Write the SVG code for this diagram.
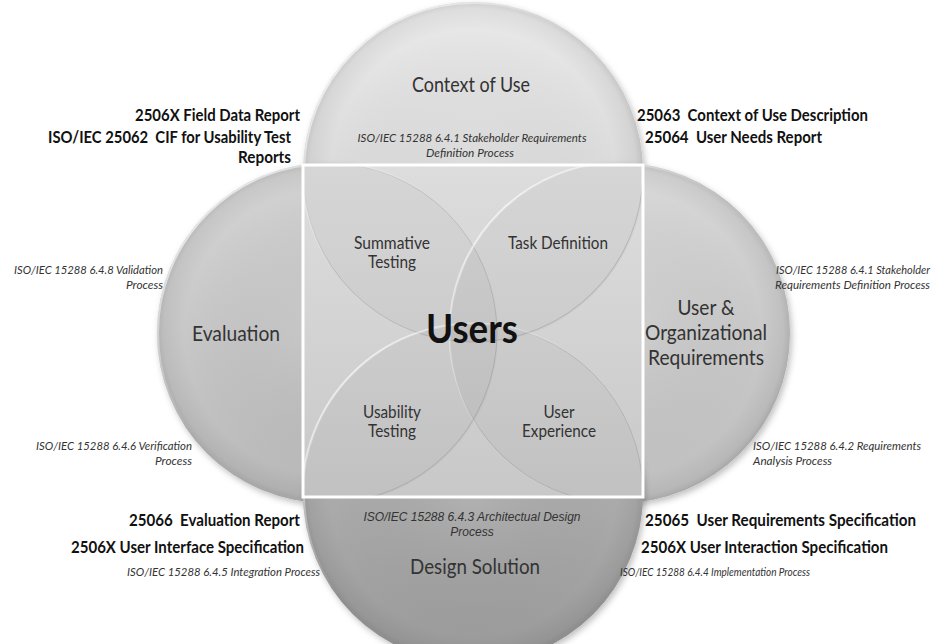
<svg xmlns="http://www.w3.org/2000/svg" width="945" height="644" viewBox="0 0 945 644">
<defs>
<style>
.lbl{font-family:Lato,'Liberation Sans',sans-serif;fill:#333;font-size:20.5px}
.in{font-family:Lato,'Liberation Sans',sans-serif;fill:#333;font-size:16.5px}
.b{font-family:Lato,'Liberation Sans',sans-serif;font-weight:bold;fill:#111;font-size:16.4px}
.it{font-family:Lato,'Liberation Sans',sans-serif;font-style:italic;fill:#333;font-size:12px}
.ar{font-family:'Liberation Sans',Arial,sans-serif;font-style:italic;fill:#333;font-size:12px}
.users{font-family:Lato,'Liberation Sans',sans-serif;font-weight:bold;fill:#111;font-size:40px}
.rim{fill:url(#rim)}
.hl{fill:none;stroke:url(#hl);stroke-width:2}
.ov{fill:#000;fill-opacity:.03;stroke:#5a5a5a;stroke-opacity:.28;stroke-width:.8}
.ovh{fill:none;stroke:url(#hl);stroke-width:2.2}
</style>
<linearGradient id="gTop" x1="0" y1="0" x2="0" y2="1"><stop offset="0" stop-color="#e9e9e9"/><stop offset="1" stop-color="#cdcdcd"/></linearGradient>
<linearGradient id="gLeft" x1="0" y1="0" x2="0.3" y2="1"><stop offset="0" stop-color="#d6d6d6"/><stop offset="1" stop-color="#b8b8b8"/></linearGradient>
<linearGradient id="gRight" x1="0" y1="0" x2="0.3" y2="1"><stop offset="0" stop-color="#dddddd"/><stop offset="1" stop-color="#c1c1c1"/></linearGradient>
<linearGradient id="gBottom" x1="0" y1="0" x2="0" y2="1"><stop offset="0" stop-color="#bebebe"/><stop offset="1" stop-color="#999999"/></linearGradient>
<linearGradient id="gSq" x1="0" y1="0" x2="0" y2="1"><stop offset="0" stop-color="#e5e5e5"/><stop offset="1" stop-color="#cfcfcf"/></linearGradient>
<radialGradient id="rim" cx="0.5" cy="0.5" r="0.5"><stop offset="0" stop-color="#fff" stop-opacity="0.08"/><stop offset="0.84" stop-color="#000" stop-opacity="0"/><stop offset="0.96" stop-color="#000" stop-opacity="0.05"/><stop offset="1" stop-color="#000" stop-opacity="0.12"/></radialGradient>
<linearGradient id="hl" x1="0" y1="0" x2="1" y2="1"><stop offset="0" stop-color="#fff" stop-opacity="0.95"/><stop offset="0.45" stop-color="#fff" stop-opacity="0"/><stop offset="1" stop-color="#777" stop-opacity="0.22"/></linearGradient>
<filter id="sh" x="-10%" y="-10%" width="125%" height="125%"><feDropShadow dx="2" dy="3" stdDeviation="3" flood-color="#000" flood-opacity="0.25"/></filter>
<clipPath id="sq"><rect x="303" y="165" width="340" height="332"/></clipPath>
</defs>
<rect width="945" height="644" fill="#fff"/>

<g id="node-context-of-use">
<circle cx="473" cy="172" r="170" fill="url(#gTop)" filter="url(#sh)"/>
<circle cx="473" cy="172" r="170" class="rim"/>
<circle cx="473" cy="172" r="169" class="hl"/>
<text class="lbl" x="471" y="92" text-anchor="middle" textLength="118" lengthAdjust="spacingAndGlyphs">Context of Use</text>
<text class="it" x="472" y="142" text-anchor="middle" textLength="229" lengthAdjust="spacingAndGlyphs">ISO/IEC 15288 6.4.1 Stakeholder Requirements</text>
<text class="it" x="470" y="157" text-anchor="middle" textLength="88" lengthAdjust="spacingAndGlyphs">Definition Process</text>
</g>

<g id="node-evaluation">
<circle cx="327" cy="333" r="170" fill="url(#gLeft)" filter="url(#sh)"/>
<circle cx="327" cy="333" r="170" class="rim"/>
<circle cx="327" cy="333" r="169" class="hl"/>
<text class="lbl" x="236" y="341" text-anchor="middle" textLength="88" lengthAdjust="spacingAndGlyphs">Evaluation</text>
</g>

<g id="node-user-org-req">
<circle cx="620" cy="333" r="170" fill="url(#gRight)" filter="url(#sh)"/>
<circle cx="620" cy="333" r="170" class="rim"/>
<circle cx="620" cy="333" r="169" class="hl"/>
<text class="lbl" x="706" y="315" text-anchor="middle" textLength="57" lengthAdjust="spacingAndGlyphs">User &amp;</text>
<text class="lbl" x="706" y="340" text-anchor="middle" textLength="122" lengthAdjust="spacingAndGlyphs">Organizational</text>
<text class="lbl" x="706" y="365" text-anchor="middle" textLength="116" lengthAdjust="spacingAndGlyphs">Requirements</text>
</g>

<g id="node-design-solution">
<circle cx="473" cy="494" r="170" fill="url(#gBottom)" filter="url(#sh)"/>
<circle cx="473" cy="494" r="170" class="rim"/>
<circle cx="473" cy="494" r="169" class="hl"/>
<text class="ar" x="472" y="521" text-anchor="middle">ISO/IEC 15288 6.4.3 Architectual Design</text>
<text class="ar" x="472" y="536" text-anchor="middle">Process</text>
<text class="lbl" x="475" y="574" text-anchor="middle" textLength="130" lengthAdjust="spacingAndGlyphs">Design Solution</text>
</g>

<g id="node-users">
<rect x="303" y="165" width="340" height="332" fill="url(#gSq)"/>
<g clip-path="url(#sq)">
<circle cx="473" cy="172" r="170" class="ov"/>
<circle cx="327" cy="333" r="170" class="ov"/>
<circle cx="620" cy="333" r="170" class="ov"/>
<circle cx="473" cy="494" r="170" class="ov"/>
<circle cx="473" cy="172" r="170.5" class="ovh"/>
<circle cx="327" cy="333" r="170.5" class="ovh"/>
<circle cx="620" cy="333" r="170.5" class="ovh"/>
<circle cx="473" cy="494" r="170.5" class="ovh"/>
</g>
<rect x="303" y="165" width="340" height="332" fill="none" stroke="#fff" stroke-width="3"/>
<text class="users" x="472" y="343" text-anchor="middle" textLength="92" lengthAdjust="spacingAndGlyphs">Users</text>
</g>

<g id="node-summative-testing">
<text class="in" x="392" y="249" text-anchor="middle" textLength="76" lengthAdjust="spacingAndGlyphs">Summative</text>
<text class="in" x="392" y="268" text-anchor="middle" textLength="48" lengthAdjust="spacingAndGlyphs">Testing</text>
</g>
<g id="node-task-definition">
<text class="in" x="558" y="249" text-anchor="middle" textLength="100" lengthAdjust="spacingAndGlyphs">Task Definition</text>
</g>
<g id="node-usability-testing">
<text class="in" x="392" y="418" text-anchor="middle" textLength="58" lengthAdjust="spacingAndGlyphs">Usability</text>
<text class="in" x="392" y="437" text-anchor="middle" textLength="48" lengthAdjust="spacingAndGlyphs">Testing</text>
</g>
<g id="node-user-experience">
<text class="in" x="559" y="418" text-anchor="middle" textLength="31" lengthAdjust="spacingAndGlyphs">User</text>
<text class="in" x="559" y="437" text-anchor="middle" textLength="74" lengthAdjust="spacingAndGlyphs">Experience</text>
</g>

<g id="annotations-top-left">
<text class="b" x="300" y="121" text-anchor="end" textLength="165" lengthAdjust="spacingAndGlyphs">2506X Field Data Report</text>
<text class="b" x="291" y="143" text-anchor="end" xml:space="preserve" textLength="243" lengthAdjust="spacingAndGlyphs">ISO/IEC 25062  CIF for Usability Test</text>
<text class="b" x="291" y="163" text-anchor="end" textLength="53" lengthAdjust="spacingAndGlyphs">Reports</text>
</g>
<g id="annotations-top-right">
<text class="b" x="637" y="121" xml:space="preserve" textLength="231" lengthAdjust="spacingAndGlyphs">25063  Context of Use Description</text>
<text class="b" x="645" y="143" xml:space="preserve" textLength="177" lengthAdjust="spacingAndGlyphs">25064  User Needs Report</text>
</g>
<g id="annotations-left">
<text class="it" x="163" y="274" text-anchor="end" textLength="149" lengthAdjust="spacingAndGlyphs">ISO/IEC 15288 6.4.8 Validation</text>
<text class="it" x="163" y="289" text-anchor="end" textLength="37" lengthAdjust="spacingAndGlyphs">Process</text>
<text class="it" x="192" y="450" text-anchor="end" textLength="156" lengthAdjust="spacingAndGlyphs">ISO/IEC 15288 6.4.6 Verification</text>
<text class="it" x="192" y="465" text-anchor="end" textLength="37" lengthAdjust="spacingAndGlyphs">Process</text>
</g>
<g id="annotations-right">
<text class="it" x="776" y="274" textLength="154" lengthAdjust="spacingAndGlyphs">ISO/IEC 15288 6.4.1 Stakeholder</text>
<text class="it" x="775" y="289" textLength="155" lengthAdjust="spacingAndGlyphs">Requirements Definition Process</text>
<text class="it" x="753" y="450" textLength="168" lengthAdjust="spacingAndGlyphs">ISO/IEC 15288 6.4.2 Requirements</text>
<text class="it" x="753" y="465" textLength="79" lengthAdjust="spacingAndGlyphs">Analysis Process</text>
</g>
<g id="annotations-bottom-left">
<text class="b" x="300" y="526" text-anchor="end" xml:space="preserve" textLength="171" lengthAdjust="spacingAndGlyphs">25066  Evaluation Report</text>
<text class="b" x="304" y="553" text-anchor="end" textLength="233" lengthAdjust="spacingAndGlyphs">2506X User Interface Specification</text>
<text class="it" x="320" y="576" text-anchor="end" textLength="193" lengthAdjust="spacingAndGlyphs">ISO/IEC 15288 6.4.5 Integration Process</text>
</g>
<g id="annotations-bottom-right">
<text class="b" x="645" y="526" xml:space="preserve" textLength="271" lengthAdjust="spacingAndGlyphs">25065  User Requirements Specification</text>
<text class="b" x="641" y="553" textLength="247" lengthAdjust="spacingAndGlyphs">2506X User Interaction Specification</text>
<text class="it" x="620" y="576" style="font-size:10.5px" textLength="190" lengthAdjust="spacingAndGlyphs">ISO/IEC 15288 6.4.4 Implementation Process</text>
</g>
<g id="connectors"/>
</svg>
